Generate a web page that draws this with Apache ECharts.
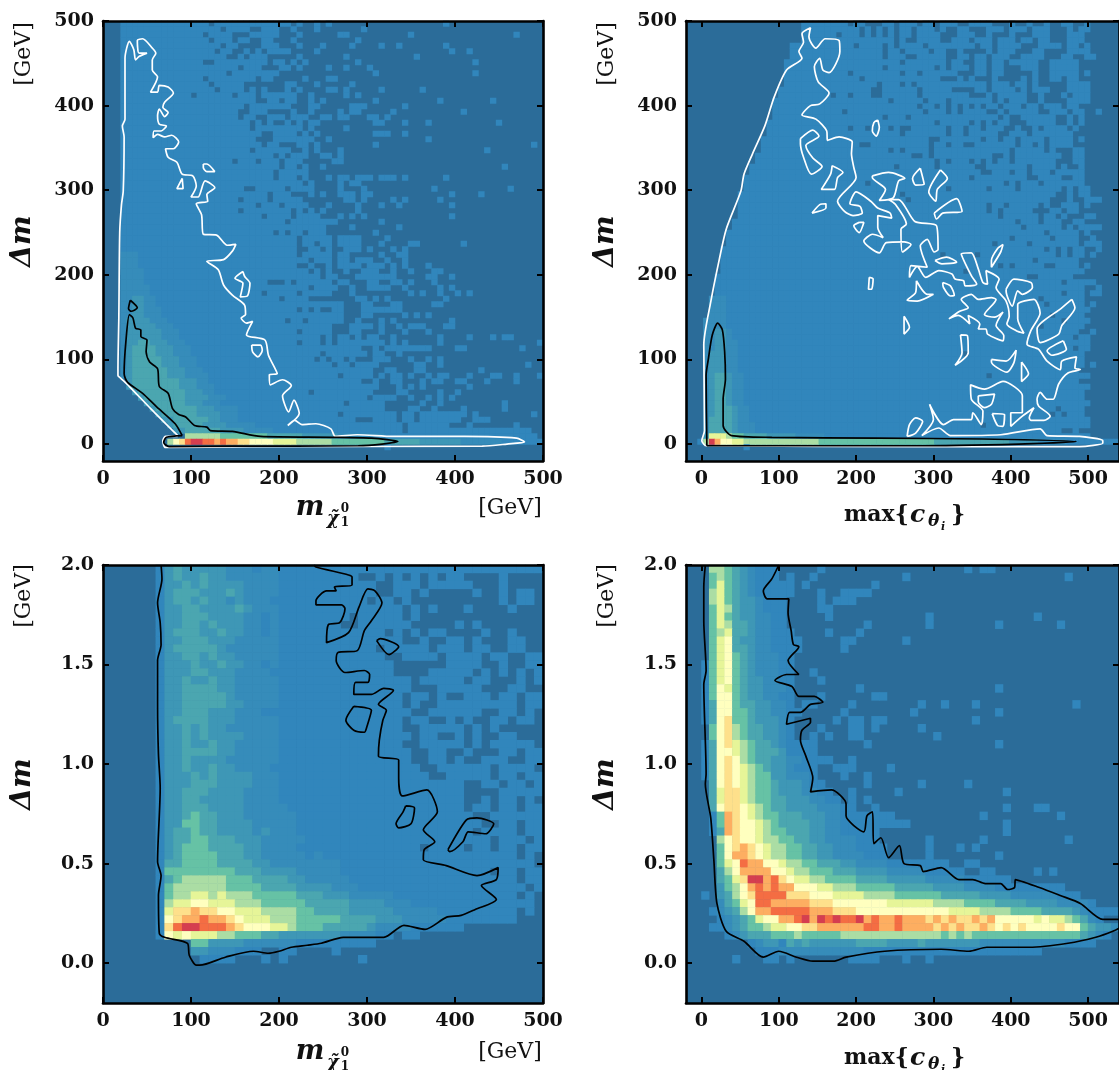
<!DOCTYPE html>
<html>
<head>
<meta charset="utf-8">
<title>Delta m heat maps</title>
<script src="https://cdn.jsdelivr.net/npm/echarts@6/dist/echarts.min.js"></script>
<style>
html, body { margin: 0; padding: 0; background: #fff; overflow: hidden; }
#chart { width: 1119px; height: 1070px; }
</style>
</head>
<body>
<div id="chart"></div>
<script>
// colour levels 0..c, a cell value is one of these levels
var levelColors = ['#2b6c99', '#3186bc', '#368cba', '#3e97b6', '#4ba6b0', '#66c2a5', '#abdda4', '#e6f598', '#ffffbf', '#fee08b', '#fdae61', '#f46d43', '#d53e4f'];

var massTicks = [0, 100, 200, 300, 400, 500];
var wideTicks = [0, 100, 200, 300, 400, 500];
var splitTicks = [0, 0.5, 1.0, 1.5, 2.0];

// upper left, 75 x 80 bins. each row lists the columns where the level flips 0/1
var panelARuns = [
[3,18,19,32,33,34,36,37,38,39,58,59],
[3,20,21,25,27,30,32,33,36,37,44,45],
[3,17,18,22,25,30,33,34,40,42,52,53,70,71],
[3,18,19,22,23,25,27,29,32,33,43,44],
[3,20,21,23,27,30,33,34,37,38,42,43,47,48,50,51,58,59],
[3,19,20,22,24,25,26,27,28,32,36,37,59,60,62,63],
[3,21,23,24,25,28,33,34,41,42,53,54],
[3,17,19,28,29,31,32,33,34,35,43,44,63,64],
[3,23,24,27,30,32,33,34,38,39,41,42,45,46],
[3,21,22,30,46,47,63,64],
[3,17,18,26,27,29,34,35,38,40],
[3,18,19,24,31,33,36,37,42,43],
[3,19,20,24,25,26,27,28,31,32,33,34,38,40,41,42,47,48,54,55],
[3,15,16,22,23,26,27,33,35,36,41,42,43,44],
[3,26,28,30,31,33,35,36,37,38,46,47,57,58,66,67],
[3,24,25,32,35,37,42,45,51,52],
[3,23,25,28,32,33,35,36,40,41,42,44,49,50,61,62],
[3,23,24,26,28,31,32,35,37,39,40,42,45,47,48,49],
[3,25,26,27,28,29,31,32,33,34,35,37,46,48,51,52,55,56,67,68],
[3,25,26,34,35,36,41,42],
[3,27,29,33,34,35,36,37,46,49,51,52],
[3,26,29,36,38,39,55,56],
[3,27,28,30,33,35,36,37,46,47,73,74],
[3,25,26,32,34,35,36,37,40,41,65,66],
[3,29,30,31,32,35,37,39,40,41],
[3,22,23,26,27,30,31,34,39,41],
[3,30,31,33,34,35,37,38,68,69],
[3,29,30,35],
[3,29,30,33,34,35,38,39,40,42,43,46,47,50,51,52,58,59],
[3,34,35,36,40,41,42,44],
[3,24,26,31,32,36,40,41,44,45,56,57,69,70],
[3,28,29,32,35,36,37,38,40,43,44,46,59,60,64,65],
[3,23,24,28,29,34,41,43,44,45,49,50,51,52,57,58],
[3,26,27,30,31,35,38,39,43,44,47,48,50,51,59,60],
[3,23,24,32,33,34,35,36,37,38,43,44],
[3,27,28,32,33,37,40,41,42,43,44,45,59,60],
[3,31,32,40,47,48],
[3,38,42,43,50,51],
[3,29,30,31,32,34,35,38,46,47],
[3,33,34,39,40,44,48,49],
[3,33,34,36,37,39,40,44,47,48,52,54,61,62],
[3,33,35,37,38,39,41,44,45,46,49,50,51,52],
[3,33,34,39,40,42,47,48,50,52],
[3,35,36,39,40,42,43,46,48,49,51,52],
[3,33,35,36,38,39,40,44,45,48,49,50,51,52,55,56],
[3,35,36,37,38,39,41,42,44,47,49,50,52,53,56,58],
[3,37,38,40,43,50,55,57,59,60],
[3,28,31,32,33,39,40,42,45,47,49,51,52,53,56,57],
[3,35,36,40,42,43,45,49,51,52,57,58,59,60],
[3,27,28,33,34,39,42,43,52,53,54,55,57,58,60,61,62,63],
[3,30,31,35,43,45,46,47,48,49,58,59],
[3,41,44,46,49,51,56,58],
[3,33,34,35,36,37,39,41,44,51],
[3,41,44,46,51,52,53,54,55,56],
[3,31,32,34,35,41,43,44,47,48,49,50,59,60],
[3,39,42,46,47,48,50,51,52,55,58,60],
[3,33,34,39,42,44,47,48,51,52,55,56],
[3,37,38,39,40,42,43,44,45,47,49,50,57,58,62,63,66,67,68,70],
[3,33,34,37,38,39,40,48,49,50,51,52,57,58,74,75],
[3,44,46,47,48,56,60,62,71,72],
[3,37,38,45,46,48,50,51],
[3,36,37,38,39,41,42,43,46,49,52,53,55,56,57,58],
[3,39,40,42,43,47,53,55,57,58,72,73],
[3,46,48,50,53,55,64,65],
[3,40,41,46,47,48,49,51,52,53,55,56,57,59,62,63,66,68,70,71,74,75],
[4,44,46,47,49,51,54,55,56,58,60,62,65,66,70,71],
[4,47,50,51,52,53,54,55,62,63],
[5,35,36,46,50,52,57,58,60,61],
[6,45,46,50,52,53,55,56,57,58,59,60],
[7,41,42,48,54,55,57,58,68,69],
[8,48,52,54,56,57,61,62,68,69],
[9,40,41,50,51,53,54,62,63,64,73,74],
[10,43,46,50,51,53,54,61,63,66],
[11,51,52,59,62,63,70,71],
[12,51,52,73],
[14,74],
[11,75],
[48,49],
[],
[]
];
// row, first column, hex levels laid over the runs
var panelAHeat = [
[42,3,"222"],[43,3,"222"],[44,3,"222"],[45,3,"2222"],[46,3,"2222"],[47,3,"2222"],[48,3,"22222"],[49,3,"22222"],
[50,3,"223322"],[51,3,"223322"],[52,3,"2233222"],[53,3,"2233222"],
[54,3,"23333222"],[55,3,"233333222"],[56,3,"2333333222"],[57,3,"2333333222"],[58,3,"23344333222"],
[59,3,"234444333222"],[60,3,"234444333222"],[61,3,"2344444333222"],[62,3,"2344444333222"],
[63,3,"23444444333222"],[64,3,"234444443332222"],[65,4,"34444444433322"],[66,4,"344444444333222"],
[67,5,"34444444433322"],[68,6,"344444443333222"],[69,7,"3444444333222"],[70,8,"344444443332222"],
[71,9,"34444443333222"],[72,10,"3344444433222"],[73,11,"344444333322222"],[74,12,"33444444333322222"],
[75,14,"6666665555555544444433333322222222111"],
[76,11,"689bccbbabaa99888877776666665555555554444443333333222222211111"]
];

// upper right, 75 x 80 bins
var panelBRuns = [
[20,28,29,31,34,36,37,40,41,43,44,47,49,53,56,57,59,60,62,63,65,67,69,70],
[20,30,31,32,33,34,35,36,37,39,40,43,44,45,47,49,52,55,56,59,60,63,66,67,68,70],
[20,26,27,30,31,32,33,34,35,36,37,39,40,44,47,50,52,53,56,57,60,63,66,69],
[20,36,37,38,40,44,46,49,50,53,54,57,58,60,61,63,66,69,70],
[18,29,30,34,35,36,37,41,42,50,51,53,54,58,61,65,66,68,69,70],
[18,34,35,37,38,42,43,45,47,48,52,53,54,57,60,62,66,70],
[18,34,35,38,40,45,47,49,50,52,53,56,58,62,65,67,69,71],
[17,37,38,45,46,48,50,52,53,55,56,61,63,68,71],
[17,34,35,43,44,45,46,49,50,52,53,55,58,61,63,68,71],
[17,28,29,37,38,40,41,47,50,52,53,55,60,61,63,68,69,70],
[17,30,31,44,47,48,49,50,53,54,58,59,60,61,63,65,66,68,70],
[17,33,34,37,38,39,40,52,53,56,57,59,60,61,66,70],
[16,32,34,40,41,46,50,52,53,57,58,59,60,63,66,70],
[16,25,26,28,29,32,34,40,41,49,52,53,54,59,61,62,65,66,67,70],
[15,35,36,41,42,45,46,53,54,55,56,59,61,62,66,70],
[15,40,41,43,44,45,46,47,48,49,50,51,52,54,55,58,59,61,62,65,66,68,71],
[15,27,28,41,42,45,46,47,48,52,54,55,56,61,63,66,67,69,71,72],
[15,34,35,38,39,54,55,56,58,64,66,67,68,69],
[14,43,44,49,50,51,52,53,54,56,59,64,66,67,68,69,70],
[14,28,29,31,32,35,36,37,39,45,46,48,49,51,52,55,57,58,60,61,62,66,67,68,70],
[14,37,38,45,46,48,49,54,56,59,60,67,70],
[13,42,44,51,52,54,55,57,58,62,63,67,68,69,70],
[13,30,32,42,43,45,46,48,50,57,58,60,61,62,63,67,70],
[13,35,36,37,38,42,43,56,57,62,63,64,67,69,70],
[12,39,41,42,43,53,55,56,57,65,67,69,70],
[12,43,44,45,46,49,50,51,52,53,54,56,57,64,67,69,70],
[11,36,37,43,44,50,52,59,60,64,65,66,68,69,70],
[11,51,53,56,57,59,60,63,64,69,70],
[10,49,50,59,61,65,67,69,70],
[10,31,32,55,56,57,58,61,62,69,70],
[10,45,46,52,53,57,58,65,66,67,68,70,71],
[9,37,38,64,66,67,68,70,71],
[9,38,39,63,66,67,69,72,73],
[9,52,53,55,56,61,62,63,65,68,69,70,72],
[9,52,53,54,55,60,63,65,66,68,70],
[9,54,55,61,62,64,65,66,69,71],
[8,57,58,61,62,65,67,69,71],
[8,58,59,65,66,67,68,72,73],
[7,62,63,68,69,70,72],
[7,56,57,63,64,68,70,71],
[7,53,54,59,60,68,69,72],
[6,62,63,64,65,66,67,69,71,72],
[6,44,45,50,51,64,65,66,67,69,70,71],
[6,60,61,68,71],
[6,54,55,56,57,62,64,68,69,70,71],
[6,48,49,69,72],
[5,59,61,67,71],
[5,65,66,71],
[5,69,71,72],
[5,65,66,69,70,72],
[4,61,62,69,71],
[4,62,63,69,70,71],
[4,70,71],
[4,63,64,69,71],
[4,65,66,70,71],
[4,61,62,69,72],
[3,68,70,71,72],
[3,67,68,70],
[3,70,71],
[3,67,68,70],
[3,48,49,69],
[3,69],
[3,69,70,71],
[3,68],
[3,52,53,70,72],
[3,68],
[3,70],
[3,69],
[3,69],
[3,70],
[3,64,65,69],
[3,63,64,65,66,69],
[3,70],
[3,51,52,70],
[3,65,67,68],
[3,70],
[2,75],
[10,11],
[],
[]
];
var panelBHeat = [
[50,4,"222"],[51,4,"222"],[52,4,"222"],[53,4,"222"],[54,3,"2222"],[55,3,"2222"],[56,3,"22332"],[57,3,"22332"],[58,3,"223322"],[59,3,"223322"],[60,3,"233322"],[61,3,"233322"],[62,3,"233322"],[63,3,"233322"],
[64,3,"2344322"],[65,3,"2344322"],[66,3,"2344322"],[67,3,"2344322"],[68,3,"2344322"],[69,3,"2344322"],[70,3,"23444322"],[71,3,"23444322"],
[72,3,"24444322"],[73,3,"244443222"],[74,3,"244443222"],
[75,3,"377765544443333322222"],
[76,3,"6ca8877666666666666655555555555555555555444444444444433333222221111"]
];

// lower left, 50 x 55 bins, hex level per bin, missing bins are level 0
var panelCRows = [
"0000001343 3333222122 1111111111 1111111111 1111111111",
"0000001343 3433222222 1111111110 0101010101 1000010000",
"0000001334 3433332222 1111111111 1001110111 1100010000",
"0000001344 4333432222 1111111111 1001101000 0010010110",
"0000001344 3433232221 1111111111 0110100000 0000010110",
"0000001334 4333343222 1111111111 1111010100 0100001000",
"0000001334 4433332212 1111111101 1111010000 0000000000",
"0000001334 4343332212 1111111001 1111100000 1010000000",
"0000001344 4334332212 1111111111 1101010110 0001001000",
"0000001334 4433322222 1111111111 1111001001 1010001100",
"0000001344 4443222222 1111111111 1011111011 1011001100",
"0000001334 4343322222 1111111111 1100111101 1110110011",
"0000001333 4334332212 1111111111 1110000001 1110010011",
"0000001333 4433322221 1111111111 1110000111 1101010101",
"0000001334 3343322222 1111111111 1111101111 1011000101",
"0000001334 4443322222 1111111111 1111100011 1110001100",
"0000001334 4444322222 1111111111 1111011010 0111011011",
"0000001334 4444332222 1111111111 1111010011 1111111011",
"0000001334 4433322211 1111111111 1111100111 1110011010",
"0000001344 4433322222 1111111111 1111011001 0100110110",
"0000001334 3433222222 1111111111 1111001111 1010100000",
"0000001334 3433332222 1111111111 1111101100 1010011000",
"0000001334 3343322222 1111111111 1111001111 1010111110",
"0000001334 4443322222 1111111111 1111100110 0100011011",
"0000001334 3333222222 1111111111 1111100110 1001110011",
"0000001334 3343322221 1111111111 1111110011 1111011110",
"0000001333 4343333222 1111111111 1111111001 1111011011",
"0000001333 4443333222 1111111111 1111111111 1001101101",
"0000001334 4433332222 1111111111 1111111111 1000011111",
"0000001334 4333332222 1111111111 1111111111 1001011010",
"0000001334 4433332222 2111111111 1111111111 1011011011",
"0000001334 5443332222 2211111111 1111111111 1100111111",
"0000001335 5443333222 2211111111 1111111111 1110011011",
"0000001344 5443333232 2211111111 1111111111 1101111011",
"0000001344 5544433322 2221111111 1111111111 1111011101",
"0000001345 5544443322 2211111111 1111110111 1011011011",
"0000001345 5554443322 2221211111 1111111111 1111111010",
"0000001445 5554444332 2222222111 1111111111 1111111110",
"0000001555 5555544433 3322222111 1111111111 1111011011",
"0000001456 6666555444 4332222211 1111111111 1111111011",
"0000001566 6666555544 4433332221 1111111111 1111111101",
"0000001566 7767666555 5544433322 2221111111 1111111010",
"0000001677 8877766655 5554444433 3322211111 1111111110",
"0000001799 a998877766 6655444433 3332222211 1111111010",
"000000189a abaa987776 6655555444 4333222221 1111111000",
"00000019bc cbbba98887 7655544444 3222211111 1000000000",
"0000001878 7776655544 3333333222 2110110000",
"0000000000 5533332222 2211111111 1000000000",
"0000000000 3322211100 1100001000",
"0000000000 0111100010 1000000001",
"",
"",
"",
"",
""
];

// lower right, 56 x 55 bins
var panelDRows = [
"0006654321 1100000100 0000000000 0000001011",
"0005654321 1101001000 0000000010 0000000000 0000000001",
"0005754321 1111010000 0000100000",
"0006754321 1111000100 1111000000",
"0006754332 1110000101 1100000000",
"0005764332 1110000110",
"0005754332 2110000010 0000000000 0100000000 0000010000",
"0005764432 2110000000 0001000000 0100000000 1000000010",
"0005674432 2111000010 0010000000",
"0005784332 2111100000 1100000010",
"0005784432 2111100000 1000000000",
"0005785432 2211000000",
"0015785432 2211000000",
"0015785432 2211001000",
"0015785433 2211000100",
"0015875433 2221000000 0010000000 0000000000 1",
"0015885433 2211000100 0000110000",
"0014885443 3221011000 0100000000 1001000100 0000000000 1",
"0014885543 3221100000 1000000001 0000000000 1",
"0014895543 3321000001 0110110000 0000000100",
"0005896544 3321000100 0110100000 1",
"0005896544 3321001010 0110000000 0010000000",
"0014897654 4321111000 0001000000 0000000000 1",
"0014887654 4431111000",
"0014898654 4332211110 0100",
"0014898765 4332111001 1100001000",
"0014898765 5332221000 1001000000",
"0004898765 5433321100 0001000000 1000001000",
"0004799765 5433322110 0100000100 0000000000 01",
"0004799765 5443332211 0101",
"0004899876 5443333222 1100100000 0000000000 0100011000",
"00015a9876 5544433322 1111111000 0000000010 0000000010",
"00015a9887 6544443322 1111111110 0000000000 0100000000",
"00014a9887 6554443322 1111100000 0000000000 0100000000",
"0000689887 6655443322 2211100000 0100000010 0000000001",
"0000589a98 7665544332 2211110000 0100010100",
"000058aa98 7665544332 2221110000 0100000000 1000000000",
"000057 8baa 8876655444 3322221111 1111001100",
"0000468aaa a887665554 4433332222 2111110011 0000010100",
"00004579cc ab98776655 5544443333 3222221111 1100000000",
"000035 68ab abaa888776 6655555444 4433332222 1111111110",
"001034689b bbb9998887 7776666555 5554444433 3322222211 100000",
"000024578b baaaaa9998 8888887777 7766665555 4444333322 221000",
"000123468a abbbbbaaa9 9988888888 8888777766 6655554444 321111",
"0000123457 88aabcacbc bbcabaabaa a9a9a99a9a 8888878776 542100",
"0001123455 6778899aaa aaabbaabaa aa9a9a99a9 8989888898 854332",
"0000012344 4555655555 6666666666 6665656555 5555555555 543210",
"0000000012 3314343333 3344443333 4333333322 2222222221 111000",
"0000000001 1122222222 2221111111 1111111111 1111110000",
"0000001000 1101000000 0111100010 0100000000",
"",
"",
"",
"",
""
];

// contours in data units
var panelAWhite = [
[[85,10],[80,15],[55,41],[30,68],[20,78],[17,81],[17,88],[18,150],[19,250],[21,283],[23,299],[24,363],[22,376],[25,384],[25,456],[30,476],[35,466],[37,454],[41,458],[50,462],[41,462],[39,477],[45,479],[56,468],[60,462],[56,454],[56,442],[62,434],[54,416],[62,416],[64,424],[74,422],[80,415],[70,404],[68,398],[74,392],[70,387],[64,396],[62,388],[64,378],[72,376],[66,370],[58,370],[57,362],[62,366],[70,363],[78,365],[86,357],[80,349],[71,349],[74,339],[84,333],[90,319],[102,317],[106,305],[100,292],[108,292],[116,311],[127,303],[118,295],[119,287],[106,284],[112,271],[114,248],[129,247],[141,235],[151,236],[147,228],[137,218],[118,216],[131,206],[137,188],[147,176],[161,164],[162,153],[157,149],[163,143],[170,145],[163,129],[184,123],[188,105],[198,83],[189,82],[190,70],[204,76],[214,69],[204,57],[211,38],[217,52],[223,36],[210,22],[218,28],[226,23],[242,24],[259,18],[264,9],[289,11],[330,9],[411,9],[470,7],[479,2.5],[459,0],[431,-2.5],[167,-3],[71,-4],[68,4],[71,9],[85,9]],
[[114,331],[118,331],[127,322],[118,322],[114,327],[114,331]],
[[90,314],[84,302],[91,302],[90,314]],
[[159,204],[150,196],[159,190],[156,174],[164,175],[167,190],[161,198],[159,204]],
[[169,117],[179,117],[181,111],[176,103],[170,109],[169,117]]
];
var panelABlack = [
[[90,10],[82,24],[61,44],[45,60],[28,73],[24,83],[26,121],[30,153],[34,149],[37,137],[43,135],[43,127],[50,123],[49,109],[53,97],[62,89],[64,68],[74,60],[79,42],[86,35],[94,32],[104,22],[118,20],[122,16],[147,15],[179,9],[260,8],[305,7],[335,3],[317,0],[290,-2],[150,-2.5],[75,-3],[69,2],[72,8],[90,10]],
[[31,170],[39,161],[32,157],[29,160],[31,170]]
];
var panelBWhite = [
[[5,-2],[0.5,4],[4,16],[3,117],[12,168],[23,218],[32,254],[51,299],[55,319],[66,343],[82,376],[94,410],[110,442],[130,456],[126,464],[132,475],[130,485],[141,492],[139,481],[148,468],[160,479],[178,477],[179,464],[165,439],[157,442],[153,456],[146,446],[151,428],[165,415],[153,402],[141,400],[130,389],[148,384],[162,370],[163,359],[178,363],[195,357],[194,343],[197,327],[200,315],[176,287],[185,275],[196,270],[208,273],[205,281],[192,284],[200,298],[219,287],[228,279],[244,273],[246,267],[228,270],[228,256],[235,244],[221,248],[210,240],[230,226],[239,238],[262,239],[271,236],[260,227],[258,254],[265,260],[251,283],[242,289],[255,289],[276,263],[304,258],[306,230],[301,227],[292,242],[283,234],[292,209],[271,211],[269,197],[279,210],[290,197],[307,205],[324,201],[328,195],[339,193],[341,187],[356,189],[349,199],[336,225],[349,226],[358,207],[364,191],[370,189],[368,205],[385,195],[381,185],[394,169],[398,151],[395,142],[407,134],[417,131],[409,148],[409,165],[430,171],[438,155],[426,134],[421,118],[436,112],[447,98],[464,88],[466,98],[485,103],[483,90],[490,88],[474,84],[462,71],[455,53],[447,53],[438,61],[434,53],[436,45],[451,33],[443,28],[426,28],[424,31],[430,43],[415,33],[400,21],[400,37],[415,37],[415,57],[390,74],[366,65],[348,70],[349,53],[364,39],[362,23],[351,37],[349,29],[326,29],[313,23],[295,47],[300,29],[285,10],[307,19],[322,10],[387,11],[438,18],[447,10],[489,9],[519,4],[519,1],[489,-3],[277,-3],[5,-2]],
[[228,383],[230,374],[226,364],[221,370],[223,380],[228,383]],
[[128,361],[144,371],[152,364],[135,353],[144,338],[156,328],[142,319],[132,339],[128,355],[128,361]],
[[169,329],[183,321],[176,315],[172,301],[155,301],[167,319],[169,329]],
[[143,273],[153,283],[161,284],[161,279],[143,273]],
[[221,317],[242,321],[263,314],[255,311],[248,291],[230,288],[238,301],[221,315],[221,317]],
[[283,326],[288,307],[277,306],[273,314],[283,326]],
[[309,324],[318,314],[305,301],[303,287],[294,298],[309,324]],
[[301,273],[330,290],[337,275],[312,273],[304,266],[301,273]],
[[204,262],[210,262],[204,250],[197,258],[204,262]],
[[217,197],[222,195],[220,183],[216,183],[217,197]],
[[278,193],[292,177],[300,177],[279,169],[266,170],[277,179],[278,193]],
[[262,151],[269,138],[262,130],[262,151]],
[[302,217],[317,221],[330,215],[311,213],[302,217]],
[[312,191],[322,187],[327,176],[322,175],[313,185],[312,191]],
[[390,236],[387,227],[375,209],[375,217],[383,231],[390,236]],
[[320,148],[334,157],[345,161],[336,171],[349,177],[358,171],[375,173],[381,171],[366,153],[379,150],[390,156],[381,140],[391,128],[390,122],[370,130],[368,136],[358,136],[360,142],[345,152],[347,142],[332,152],[320,148]],
[[394,183],[404,195],[426,191],[428,185],[415,177],[409,181],[402,163],[394,181],[394,183]],
[[479,171],[483,161],[466,140],[462,130],[438,120],[434,136],[466,161],[479,171]],
[[468,122],[472,112],[453,105],[447,110],[468,122]],
[[335,129],[344,128],[345,108],[328,93],[337,108],[335,129]],
[[375,100],[394,98],[407,111],[404,96],[395,85],[375,97],[375,100]],
[[414,97],[423,83],[414,74],[414,97]],
[[358,57],[379,59],[375,47],[366,43],[358,50],[358,57]],
[[376,36],[392,35],[390,21],[383,22],[376,36]],
[[266,9],[269,23],[277,31],[286,27],[277,13],[266,9]]
];
var panelBBlack = [
[[7,-2],[6,81],[9,101],[14,129],[21,143],[27,135],[30,109],[31,77],[28,53],[28,22],[39,10],[91,8],[228,7],[364,6],[485,3],[410,0],[273,-2],[46,-2],[7,-2]]
];
var panelCBlack = [
[[66,2],[67,1.93],[62,1.81],[65,1.71],[66,1.6],[62,1.52],[62,1.29],[63,1.05],[65,0.88],[62,0.51],[66,0.44],[63,0.34],[64,0.15],[70,0.13],[96,0.1],[98,0.04],[106,-0.01],[110,-0.01],[139,0.03],[171,0.06],[188,0.05],[200,0.06],[214,0.08],[232,0.09],[248,0.1],[273,0.13],[319,0.13],[342,0.19],[366,0.17],[390,0.23],[407,0.24],[423,0.27],[447,0.32],[430,0.39],[447,0.42],[449,0.48],[425,0.44],[390,0.49],[364,0.52],[365,0.57],[377,0.61],[364,0.67],[380,0.76],[368,0.87],[340,0.84],[336,0.93],[336,1.02],[313,1.04],[314,1.12],[318,1.22],[322,1.27],[313,1.3],[330,1.37],[319,1.38],[305,1.35],[285,1.35],[287,1.41],[301,1.41],[303,1.45],[297,1.47],[275,1.46],[265,1.52],[267,1.56],[289,1.57],[297,1.67],[305,1.72],[317,1.81],[309,1.87],[301,1.88],[291,1.79],[279,1.66],[254,1.61],[256,1.7],[269,1.71],[275,1.78],[271,1.8],[242,1.8],[242,1.82],[254,1.87],[265,1.87],[263,1.89],[283,1.9],[283,1.94],[279,1.95],[242,1.99],[240,2]],
[[285,1.29],[305,1.27],[300,1.19],[297,1.16],[285,1.17],[276,1.22],[285,1.29]],
[[311,1.62],[315,1.63],[336,1.59],[325,1.55],[311,1.62]],
[[344,0.79],[354,0.78],[350,0.7],[336,0.68],[333,0.7],[341,0.76],[344,0.79]],
[[392,0.57],[413,0.72],[425,0.73],[444,0.7],[435,0.65],[415,0.66],[409,0.61],[394,0.56],[392,0.57]]
];
var panelDBlack = [
[[5,2],[3,1.89],[3,1.72],[6,1.47],[3,1.4],[6,0.95],[5,0.9],[12,0.73],[16,0.52],[20,0.3],[32,0.16],[55,0.11],[80,0.03],[100,0.06],[123,0.03],[144,0.01],[171,0.01],[187,0.03],[237,0.06],[310,0.07],[346,0.06],[369,0.08],[424,0.08],[474,0.1],[510,0.13],[532,0.16],[542,0.18]],
[[100,2],[91,1.93],[80,1.87],[85,1.83],[113,1.83],[112,1.76],[116,1.67],[119,1.6],[126,1.59],[112,1.52],[126,1.45],[110,1.45],[95,1.42],[117,1.39],[126,1.34],[146,1.34],[157,1.31],[141,1.3],[128,1.26],[114,1.26],[110,1.2],[141,1.23],[141,1.21],[130,1.17],[128,1.12],[135,1.04],[144,0.93],[141,0.86],[168,0.87],[187,0.8],[187,0.74],[210,0.66],[214,0.74],[221,0.76],[223,0.6],[232,0.63],[242,0.53],[256,0.59],[262,0.5],[283,0.49],[287,0.46],[310,0.48],[333,0.42],[351,0.42],[367,0.4],[387,0.4],[396,0.37],[405,0.38],[406,0.42],[437,0.38],[464,0.34],[490,0.3],[519,0.22],[532,0.22],[542,0.22]]
];

function cellsFromRuns(runs, heat, rowCount) {
    var grid = runs.map(function (flips) {
        var row = [], level = 0, at = 0;
        flips.forEach(function (col) {
            for (; at < col; at++) { row[at] = level; }
            level = level ? 0 : 1;
        });
        return row;
    });
    heat.forEach(function (h) {
        h[2].split('').forEach(function (ch, i) { grid[h[0]][h[1] + i] = parseInt(ch, 16); });
    });
    var cells = [];
    grid.forEach(function (row, r) {
        row.forEach(function (v, c) {
            if (v > 0) { cells.push([c, rowCount - 1 - r, v]); }
        });
    });
    return cells;
}

function cellsFromRows(rows, rowCount) {
    var cells = [];
    rows.forEach(function (text, r) {
        text.replace(/ /g, '').split('').forEach(function (ch, c) {
            var v = parseInt(ch, 16);
            if (v > 0) { cells.push([c, rowCount - 1 - r, v]); }
        });
    });
    return cells;
}

function indexList(n) {
    var list = [];
    for (var i = 0; i < n; i++) { list.push(i); }
    return list;
}

var panels = [
    { box: { left: 103, top: 21, width: 440, height: 440 }, xMin: 0, xMax: 500, yMin: -20, yMax: 500, xTicks: massTicks, yTicks: massTicks, yDigits: 0, cols: 75, rows: 80, cells: cellsFromRuns(panelARuns, panelAHeat, 80), white: panelAWhite, black: panelABlack },
    { box: { left: 686, top: 21, width: 440, height: 440 }, xMin: -20, xMax: 540, yMin: -20, yMax: 500, xTicks: wideTicks, yTicks: massTicks, yDigits: 0, cols: 75, rows: 80, cells: cellsFromRuns(panelBRuns, panelBHeat, 80), white: panelBWhite, black: panelBBlack },
    { box: { left: 103, top: 565, width: 440, height: 438 }, xMin: 0, xMax: 500, yMin: -0.2, yMax: 2, xTicks: massTicks, yTicks: splitTicks, yDigits: 1, cols: 50, rows: 55, cells: cellsFromRows(panelCRows, 55), white: [], black: panelCBlack },
    { box: { left: 686, top: 565, width: 440, height: 438 }, xMin: -20, xMax: 540, yMin: -0.2, yMax: 2, xTicks: wideTicks, yTicks: splitTicks, yDigits: 1, cols: 56, rows: 55, cells: cellsFromRows(panelDRows, 55), white: [], black: panelDBlack }
];

var boldFont = '"DejaVu Serif"';
var grids = [], xAxes = [], yAxes = [], series = [], heatIndexes = [], graphics = [];

function valueAxis(position, min, max, ticks, labelled, digits) {
    return {
        type: 'value', position: position, min: min, max: max, z: 5,
        splitLine: { show: false },
        axisLine: { show: true, onZero: false, lineStyle: { color: '#000', width: 2.6 } },
        axisTick: { show: true, inside: true, length: 6, customValues: ticks, lineStyle: { color: '#000', width: 2 } },
        axisLabel: {
            show: labelled, customValues: ticks, margin: 9, color: '#111', fontFamily: boldFont, fontWeight: 'bold', fontSize: 19,
            formatter: function (v) { return v.toFixed(digits); }
        }
    };
}

panels.forEach(function (p, i) {
    grids.push({ left: p.box.left, top: p.box.top, width: p.box.width, height: p.box.height, show: true, backgroundColor: levelColors[0], borderWidth: 0, containLabel: false });
    var base = i * 3;
    xAxes.push({ type: 'category', gridIndex: i, show: false, data: indexList(p.cols), position: 'bottom' });
    yAxes.push({ type: 'category', gridIndex: i, show: false, data: indexList(p.rows), position: 'left' });
    var xb = valueAxis('bottom', p.xMin, p.xMax, p.xTicks, true, 0); xb.gridIndex = i; xAxes.push(xb);
    var xt = valueAxis('top', p.xMin, p.xMax, p.xTicks, false, 0); xt.gridIndex = i; xAxes.push(xt);
    var yl = valueAxis('left', p.yMin, p.yMax, p.yTicks, true, p.yDigits); yl.gridIndex = i; yAxes.push(yl);
    var yr = valueAxis('right', p.yMin, p.yMax, p.yTicks, false, p.yDigits); yr.gridIndex = i; yAxes.push(yr);

    heatIndexes.push(series.length);
    series.push({
        type: 'heatmap', xAxisIndex: base, yAxisIndex: base, data: p.cells, silent: true,
        progressive: 0, animation: false, itemStyle: { borderWidth: 0 }, emphasis: { disabled: true }
    });
    [[p.white, '#ffffff'], [p.black, '#000000']].forEach(function (set) {
        set[0].forEach(function (contour) {
            series.push({
                type: 'line', xAxisIndex: base + 1, yAxisIndex: base + 1, data: contour, z: 4, silent: true,
                symbol: 'none', animation: false, smooth: 0.25, lineStyle: { color: set[1], width: 1.7 }
            });
        });
    });
});

function addText(text, x, y, size, opts) {
    opts = opts || {};
    graphics.push({
        type: 'text', x: x, y: y, rotation: opts.rotate ? Math.PI / 2 : 0, silent: true, z: 20,
        style: {
            text: text, fill: '#111', align: opts.align || 'center', verticalAlign: 'middle',
            font: (opts.style || '') + ' ' + size + 'px ' + boldFont
        }
    });
}

function addMassLabel(x, y) {
    addText('m', x, y, 27, { style: 'italic bold' });
    addText('\u03c7\u0303', x + 23, y + 11, 18, { style: 'italic bold' });
    addText('0', x + 35, y + 1, 12, { style: 'bold' });
    addText('1', x + 35, y + 15, 12, { style: 'bold' });
}

function addMaxLabel(x, y) {
    addText('max{', x, y, 22, { style: 'bold', align: 'left' });
    addText('c', x + 66, y, 25, { style: 'italic bold', align: 'left' });
    addText('\u03b8', x + 84, y + 7, 17, { style: 'italic bold', align: 'left' });
    addText('i', x + 97, y + 12, 11, { style: 'italic bold', align: 'left' });
    addText('}', x + 107, y, 22, { style: 'bold', align: 'left' });
}

// left side labels
[[23, 241, 54], [606, 241, 54], [23, 784, 596], [606, 784, 596]].forEach(function (l) {
    addText('\u0394m', l[0], l[1], 28, { style: 'italic bold', rotate: true });
    addText('[GeV]', l[0] + 1, l[2], 22, { rotate: true });
});
// bottom labels
addMassLabel(310, 508);
addText('[GeV]', 510, 508, 22);
addMaxLabel(844, 515);
addMassLabel(310, 1052);
addText('[GeV]', 510, 1052, 22);
addMaxLabel(844, 1058);

var chart = echarts.init(document.getElementById('chart'), null, { renderer: 'canvas' });
chart.setOption({
    animation: false,
    backgroundColor: '#ffffff',
    grid: grids,
    xAxis: xAxes,
    yAxis: yAxes,
    visualMap: {
        type: 'continuous', show: false, min: 0, max: 12, dimension: 2, seriesIndex: heatIndexes,
        inRange: { color: levelColors }
    },
    series: series,
    graphic: { elements: graphics }
});
</script>
</body>
</html>
